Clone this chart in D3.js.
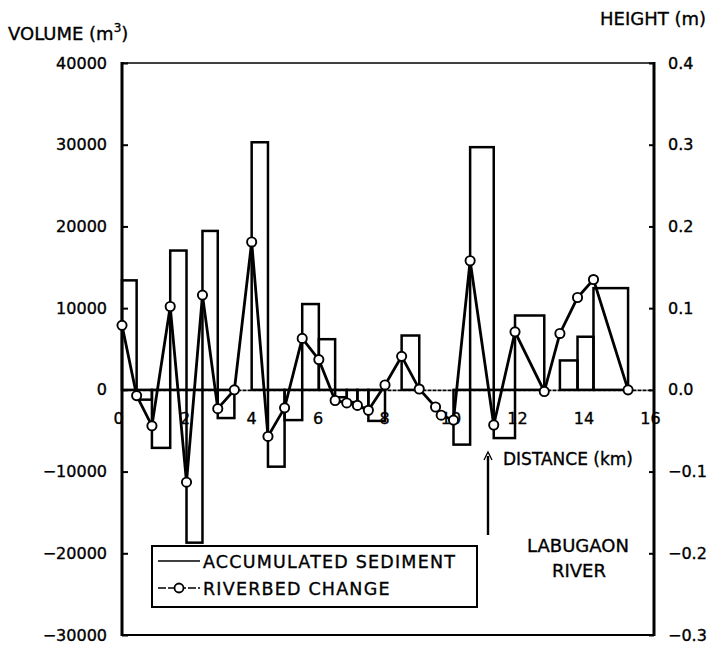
<!DOCTYPE html>
<html>
<head>
<meta charset="utf-8">
<script src="https://cdn.jsdelivr.net/npm/d3@7/dist/d3.min.js"></script>
<style>
  body { margin: 0; background: #fff; }
  svg { display: block; }
  text { font-family: "DejaVu Sans", sans-serif; fill: #000; stroke: #000; stroke-width: 0.35px; }
</style>
</head>
<body>
<svg id="chart" width="713" height="650"></svg>
<script>
// Survey stations along the river (km) and riverbed height change at each (m)
const stationKm = [0.00, 0.44, 0.90, 1.45, 1.94, 2.42, 2.88, 3.38, 3.90, 4.39,
                   4.89, 5.42, 5.92, 6.41, 6.76, 7.08, 7.41, 7.91, 8.41, 8.94,
                   9.43, 9.60, 9.97, 10.47, 11.18, 11.82, 12.70, 13.17, 13.70, 14.18, 15.22];
const riverbedChange = [0.079, -0.007, -0.044, 0.102, -0.113, 0.116, -0.023, 0.000, 0.181, -0.057,
                        -0.022, 0.063, 0.037, -0.013, -0.016, -0.019, -0.025, 0.006, 0.041, 0.001,
                        -0.021, -0.031, -0.037, 0.158, -0.043, 0.071, -0.002, 0.069, 0.113, 0.135, 0.000];
// Accumulated sediment volume for each reach between consecutive stations (m3)
const accumulatedSediment = [13400, -1200, -7100, 17050, -18700, 19450, -3450, 0, 30300, -9400,
                             -3700, 10500, 6200, -900, -1500, -2200, -3800, 0, 6650, 0,
                             0, 0, -6700, 29700, -5900, 9100, 0, 3600, 6500, 12450];

const volumeTicks = [40000, 30000, 20000, 10000, 0, -10000, -20000, -30000];
const heightTicks = [0.4, 0.3, 0.2, 0.1, 0.0, -0.1, -0.2, -0.3];
const distanceTicks = [0, 2, 4, 6, 8, 10, 12, 14, 16];

const svg = d3.select("#chart");
const L = 122, R = 654, T = 63, B = 635;

const x = d3.scaleLinear().domain([0, 16]).range([L, R]);
const yV = d3.scaleLinear().domain([-30000, 40000]).range([B, T]);
const yH = d3.scaleLinear().domain([-0.3, 0.4]).range([B, T]);

// Left (volume) axis
const gLeft = svg.append("g").attr("transform", `translate(${L},0)`)
  .call(d3.axisLeft(yV).tickValues(volumeTicks).tickSize(-6).tickPadding(15).tickFormat(d3.format("d")));
gLeft.select(".domain").remove();
gLeft.selectAll(".tick line").attr("stroke", "#000").attr("stroke-width", 2);
gLeft.selectAll(".tick text").attr("font-size", 16).attr("font-family", "DejaVu Sans");

// Right (height) axis
const gRight = svg.append("g").attr("transform", `translate(${R},0)`)
  .call(d3.axisRight(yH).tickValues(heightTicks).tickSize(-5).tickPadding(14).tickFormat(d3.format(".1f")));
gRight.select(".domain").remove();
gRight.selectAll(".tick line").attr("stroke", "#000").attr("stroke-width", 2);
gRight.selectAll(".tick text").attr("font-size", 16).attr("font-family", "DejaVu Sans");

// Distance axis along the zero line
const gX = svg.append("g").attr("transform", `translate(0,${yV(0)})`)
  .call(d3.axisBottom(x).tickValues(distanceTicks).tickSize(0).tickPadding(23).tickFormat(d3.format("d")));
gX.select(".domain").attr("stroke", "#000").attr("stroke-width", 1.6).attr("stroke-dasharray", "4,1");
gX.selectAll(".tick text").attr("font-size", 16).attr("font-family", "DejaVu Sans").attr("dx", -4);

// Plot frame
svg.append("line").attr("x1", L).attr("x2", R).attr("y1", T).attr("y2", T)
  .attr("stroke", "#000").attr("stroke-width", 1.6);
svg.append("line").attr("x1", L).attr("x2", R).attr("y1", B).attr("y2", B)
  .attr("stroke", "#000").attr("stroke-width", 2);
svg.append("line").attr("x1", L).attr("x2", L).attr("y1", T - 1).attr("y2", B + 1)
  .attr("stroke", "#000").attr("stroke-width", 3);
svg.append("line").attr("x1", R).attr("x2", R).attr("y1", T - 1).attr("y2", B + 1)
  .attr("stroke", "#000").attr("stroke-width", 3);

// Accumulated sediment bars (one per reach)
const reaches = accumulatedSediment.map((v, i) => ({ x0: stationKm[i], x1: stationKm[i + 1], v }))
  .filter(d => d.v !== 0);
svg.append("g").selectAll("rect").data(reaches).join("rect")
  .attr("x", d => x(d.x0))
  .attr("width", d => x(d.x1) - x(d.x0))
  .attr("y", d => Math.min(yV(d.v), yV(0)))
  .attr("height", d => Math.abs(yV(d.v) - yV(0)))
  .attr("fill", "none").attr("stroke", "#000").attr("stroke-width", 2.5);

// Riverbed change line with open markers
const pts = stationKm.map((k, i) => ({ k, h: riverbedChange[i] }));
svg.append("path").datum(pts)
  .attr("d", d3.line().x(d => x(d.k)).y(d => yH(d.h)))
  .attr("fill", "none").attr("stroke", "#000").attr("stroke-width", 2.8);
svg.append("g").selectAll("circle").data(pts).join("circle")
  .attr("cx", d => x(d.k)).attr("cy", d => yH(d.h)).attr("r", 4.6)
  .attr("fill", "#fff").attr("stroke", "#000").attr("stroke-width", 1.9);

// Axis titles
const vt = svg.append("text").attr("x", 8).attr("y", 40).attr("font-size", 18);
vt.append("tspan").text("VOLUME (m");
vt.append("tspan").attr("font-size", 12).attr("dy", -8).text("3");
vt.append("tspan").attr("dy", 8).text(")");
svg.append("text").attr("x", 600).attr("y", 25).attr("font-size", 18).text("HEIGHT (m)");

svg.append("text").attr("x", 503).attr("y", 465).attr("font-size", 17).text("DISTANCE (km)");
// Arrow marking the river mouth
svg.append("line").attr("x1", 488).attr("x2", 488).attr("y1", 456).attr("y2", 535)
  .attr("stroke", "#000").attr("stroke-width", 2.4);
svg.append("path").attr("d", "M484,460 L488,452 L492,460")
  .attr("fill", "none").attr("stroke", "#000").attr("stroke-width", 1.3);
svg.append("text").attr("x", 578).attr("y", 552).attr("font-size", 18).attr("text-anchor", "middle").text("LABUGAON");
svg.append("text").attr("x", 579).attr("y", 577).attr("font-size", 18).attr("text-anchor", "middle").text("RIVER");

// Legend
const lg = svg.append("g");
lg.append("rect").attr("x", 152).attr("y", 546).attr("width", 325).attr("height", 61)
  .attr("fill", "#fff").attr("stroke", "#000").attr("stroke-width", 2);
lg.append("line").attr("x1", 158).attr("x2", 200).attr("y1", 561).attr("y2", 561)
  .attr("stroke", "#000").attr("stroke-width", 1.6);
lg.append("text").attr("x", 203).attr("y", 567.5).attr("font-size", 17.5).attr("letter-spacing", 1.2)
  .text("ACCUMULATED SEDIMENT");
lg.append("line").attr("x1", 158).attr("x2", 200).attr("y1", 588).attr("y2", 588)
  .attr("stroke", "#000").attr("stroke-width", 1.6).attr("stroke-dasharray", "8,2");
lg.append("circle").attr("cx", 179).attr("cy", 588).attr("r", 4.5)
  .attr("fill", "#fff").attr("stroke", "#000").attr("stroke-width", 1.8);
lg.append("text").attr("x", 203).attr("y", 594.5).attr("font-size", 17.5).attr("letter-spacing", 1.2)
  .text("RIVERBED CHANGE");
</script>
</body>
</html>
